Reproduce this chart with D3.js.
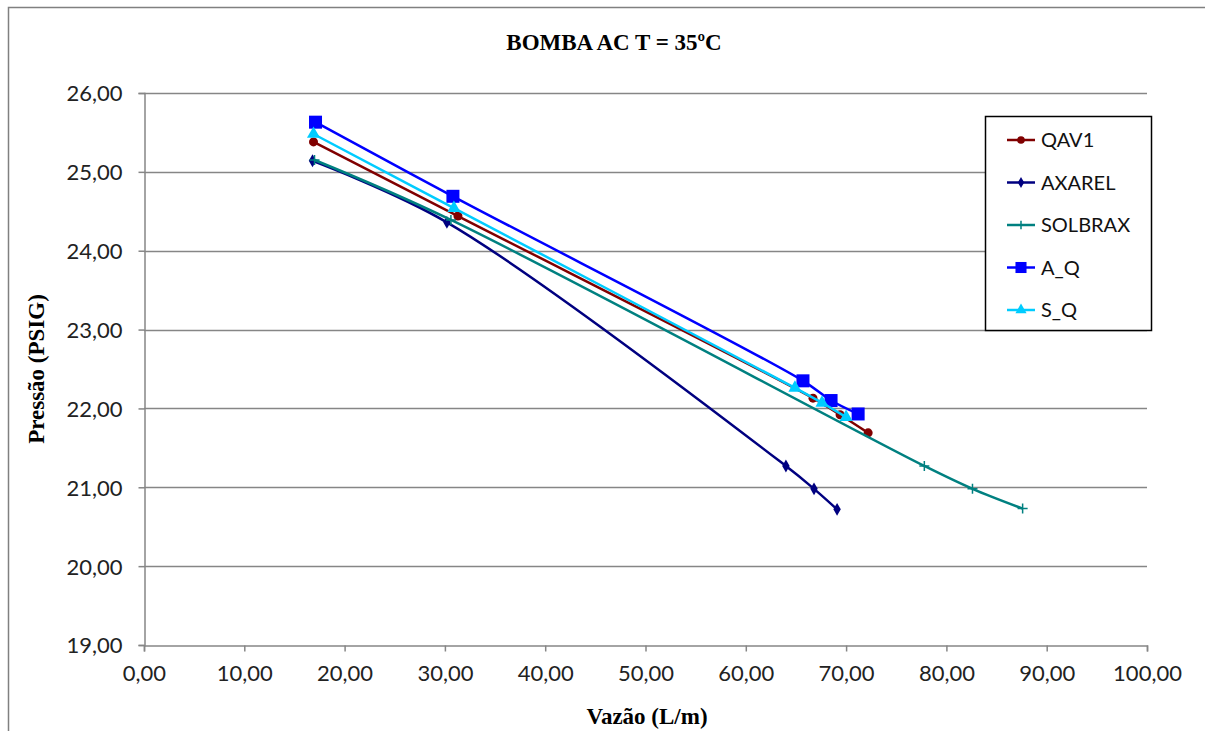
<!DOCTYPE html>
<html>
<head>
<meta charset="utf-8">
<script src="https://cdn.jsdelivr.net/npm/d3@7"></script>
<style>
  body { margin: 0; background: #fff; }
  svg { display: block; }
  .tick text { font-family: Lato, "Open Sans", sans-serif; font-size: 22px; fill: #222; }
  .axis path, .axis line { stroke: #868686; }
  .grid line { stroke: #868686; }
</style>
</head>
<body>
<div id="chart"></div>
<script>
// series: x = vazão (L/m), y = pressão (PSIG)
const qav1X = [16.9, 31.3, 66.7, 69.4, 72.2];
const qav1Y = [25.38, 24.44, 22.13, 21.92, 21.69];

const axarelX = [16.8, 30.2, 64.0, 66.8, 69.1];
const axarelY = [25.14, 24.36, 21.27, 20.98, 20.72];

const solbraxX = [17.0, 30.6, 77.8, 82.6, 87.6];
const solbraxY = [25.15, 24.39, 21.27, 20.98, 20.73];

const aqX = [17.1, 30.8, 65.7, 68.5, 71.2];
const aqY = [25.63, 24.69, 22.35, 22.10, 21.93];

const sqX = [16.9, 30.9, 64.9, 67.6, 70.0];
const sqY = [25.48, 24.54, 22.26, 22.07, 21.89];

const xTicks = [0, 10, 20, 30, 40, 50, 60, 70, 80, 90, 100];
const yTicks = [19, 20, 21, 22, 23, 24, 25, 26];

const series = [
  { name: "QAV1", xs: qav1X, ys: qav1Y, color: "#800000", marker: "circle" },
  { name: "AXAREL", xs: axarelX, ys: axarelY, color: "#000080", marker: "diamond" },
  { name: "SOLBRAX", xs: solbraxX, ys: solbraxY, color: "#008080", marker: "plus" },
  { name: "A_Q", xs: aqX, ys: aqY, color: "#0000ff", marker: "square" },
  { name: "S_Q", xs: sqX, ys: sqY, color: "#00ccff", marker: "triangle" },
];

const width = 1205;
const height = 731;
const margin = { top: 93, right: 58, bottom: 86, left: 144 };

const fmt = (d) => d3.format(".2f")(d).replace(".", ",");

const x = d3.scaleLinear().domain([0, 100]).range([margin.left, width - margin.right]);
const y = d3.scaleLinear().domain([19, 26]).range([height - margin.bottom, margin.top]);

const svg = d3.select("#chart").append("svg").attr("width", width).attr("height", height);

// chart frame
svg.append("rect")
  .attr("x", 8.5).attr("y", 7.5)
  .attr("width", width).attr("height", height)
  .attr("fill", "none").attr("stroke", "#808080").attr("stroke-width", 1.5);

// horizontal gridlines
svg.append("g").attr("class", "grid")
  .selectAll("line")
  .data(yTicks.slice(1))
  .join("line")
  .attr("x1", x(0)).attr("x2", x(100))
  .attr("y1", (d) => Math.round(y(d)) + 0.5)
  .attr("y2", (d) => Math.round(y(d)) + 0.5)
  .attr("stroke-width", 1.5);

svg.append("g").attr("class", "axis")
  .attr("transform", `translate(0,${Math.round(y(19)) + 0.5})`)
  .call(d3.axisBottom(x).tickValues(xTicks).tickFormat(fmt).tickSizeOuter(0).tickSize(6).tickPadding(14))
  .call((g) => g.selectAll("path, line").attr("stroke-width", 1.5));

svg.append("g").attr("class", "axis")
  .attr("transform", `translate(${Math.round(x(0)) + 0.5},0)`)
  .call(d3.axisLeft(y).tickValues(yTicks).tickFormat(fmt).tickSizeOuter(0).tickSize(6).tickPadding(16))
  .call((g) => g.selectAll("path, line").attr("stroke-width", 1.5))
  .call((g) => g.selectAll("text").attr("dy", "0.36em"));

// titles
const serif = "'Liberation Serif', 'Times New Roman', serif";
svg.append("text")
  .attr("x", 614).attr("y", 50)
  .attr("text-anchor", "middle")
  .attr("font-family", serif).attr("font-weight", "bold").attr("font-size", 23)
  .text("BOMBA AC T = 35ºC");

svg.append("text")
  .attr("x", 647).attr("y", 724)
  .attr("text-anchor", "middle")
  .attr("font-family", serif).attr("font-weight", "bold").attr("font-size", 23)
  .text("Vazão (L/m)");

svg.append("text")
  .attr("transform", `translate(44,${(y(19) + y(26)) / 2}) rotate(-90)`)
  .attr("text-anchor", "middle")
  .attr("font-family", serif).attr("font-weight", "bold").attr("font-size", 23)
  .text("Pressão (PSIG)");

// markers
function drawMarker(g, type, color, size) {
  const s = size || 1;
  if (type === "circle") {
    g.append("circle").attr("r", 4.5 * s).attr("fill", color);
  } else if (type === "diamond") {
    g.append("path").attr("d", d3.symbol(d3.symbolDiamond, 48 * s * s)()).attr("fill", color);
  } else if (type === "plus") {
    g.append("path").attr("d", `M${-5 * s},0H${5 * s}M0,${-5 * s}V${5 * s}`)
      .attr("stroke", color).attr("stroke-width", 1.5);
  } else if (type === "square") {
    g.append("rect").attr("x", -6.5 * s).attr("y", -6.5 * s)
      .attr("width", 13 * s).attr("height", 13 * s).attr("fill", color);
  } else if (type === "triangle") {
    g.append("path").attr("d", d3.symbol(d3.symbolTriangle, 75 * s * s)()).attr("fill", color);
  }
}

const line = d3.line()
  .x((d) => x(d[0]))
  .y((d) => y(d[1]))
  .curve(d3.curveCatmullRom.alpha(0.5));

const gSeries = svg.append("g");
series.forEach((s) => {
  const pts = s.xs.map((v, i) => [v, s.ys[i]]);
  const g = gSeries.append("g");
  g.append("path")
    .datum(pts)
    .attr("d", line)
    .attr("fill", "none")
    .attr("stroke", s.color)
    .attr("stroke-width", 2.5);
  pts.forEach((p) => {
    const m = g.append("g").attr("transform", `translate(${x(p[0])},${y(p[1])})`);
    drawMarker(m, s.marker, s.color);
  });
});

// legend
const legend = svg.append("g").attr("transform", "translate(985,116)");
legend.append("rect")
  .attr("x", 0.5).attr("y", 0.5)
  .attr("width", 166).attr("height", 214)
  .attr("fill", "#fff").attr("stroke", "#000").attr("stroke-width", 1.5);

series.forEach((s, i) => {
  const row = legend.append("g").attr("transform", `translate(0,${24 + i * 42.5})`);
  row.append("line")
    .attr("x1", 22).attr("x2", 50)
    .attr("stroke", s.color).attr("stroke-width", 2.5);
  drawMarker(row.append("g").attr("transform", "translate(36,0)"), s.marker, s.color, 0.85);
  row.append("text")
    .attr("x", 56).attr("dy", "0.36em")
    .attr("font-family", "Lato, 'Open Sans', sans-serif")
    .attr("font-size", 20).attr("fill", "#111")
    .text(s.name);
});
</script>
</body>
</html>
